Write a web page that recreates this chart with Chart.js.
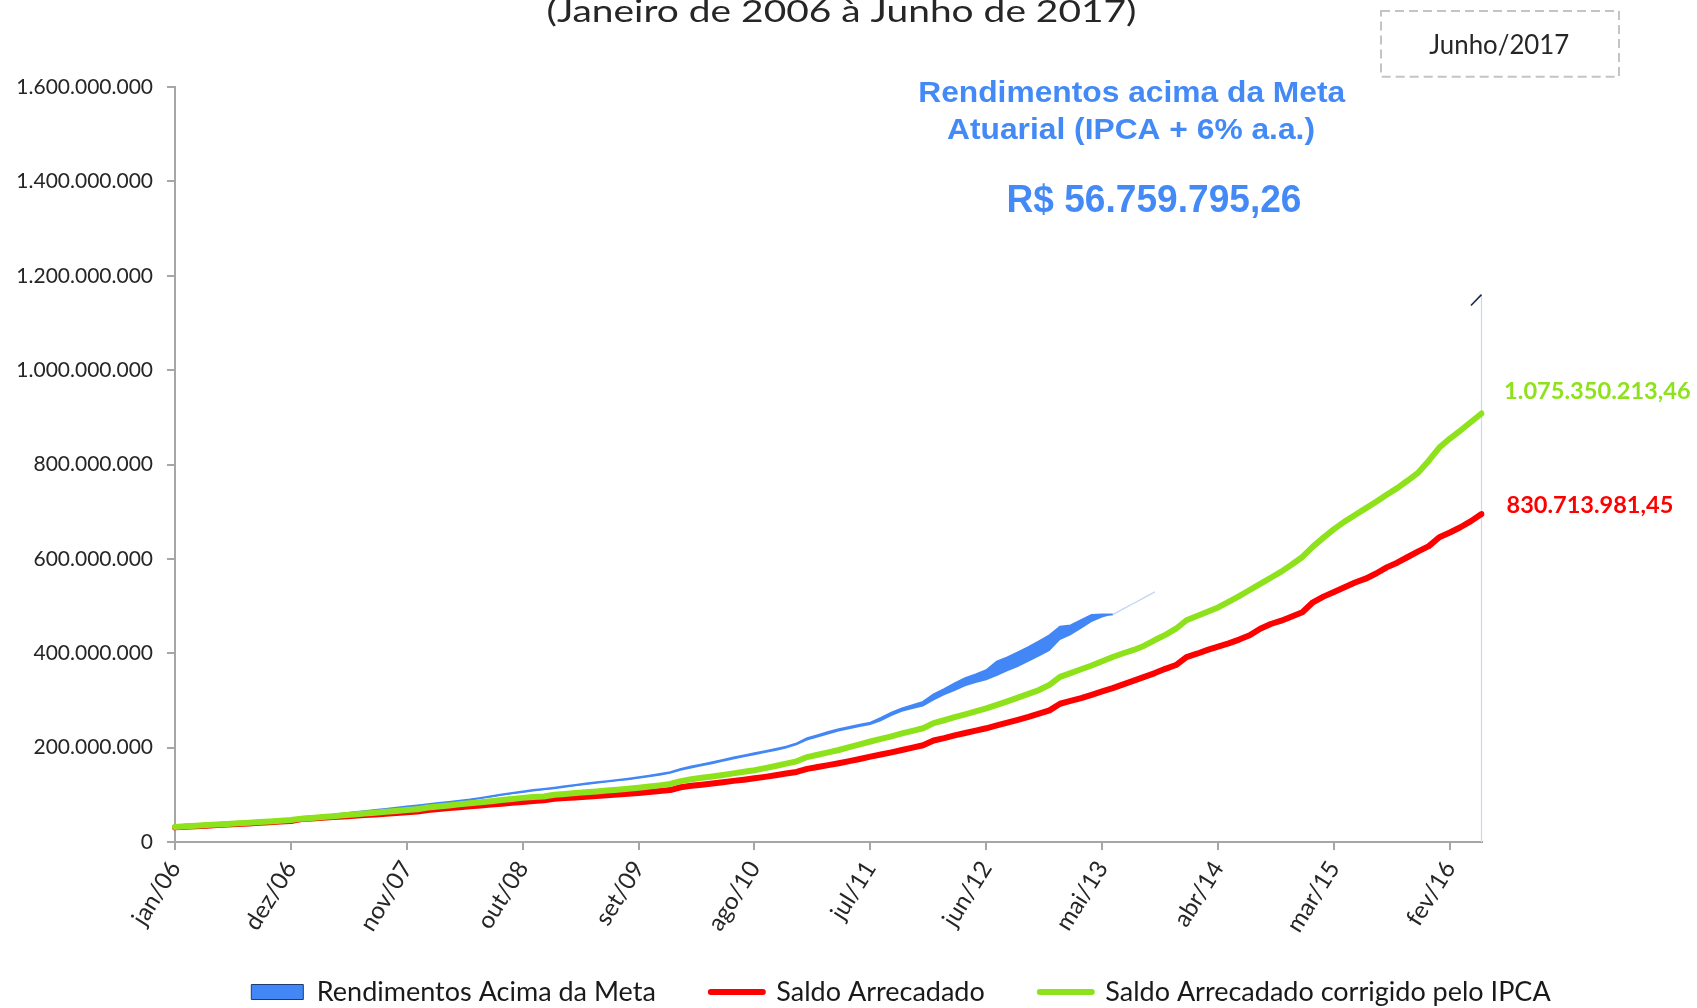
<!DOCTYPE html>
<html><head><meta charset="utf-8">
<script src="https://cdn.jsdelivr.net/npm/chart.js@4.4.1/dist/chart.umd.min.js"></script>
<style>html,body{margin:0;padding:0;background:#fff;overflow:hidden}</style>
</head><body>
<canvas id="c" width="1697" height="1008"></canvas>
<script>
// ---- categories (monthly, jan/06 .. mai/16) ----
const categories = [
 'jan/06','fev/06','mar/06','abr/06','mai/06','jun/06','jul/06','ago/06','set/06','out/06','nov/06','dez/06',
 'jan/07','fev/07','mar/07','abr/07','mai/07','jun/07','jul/07','ago/07','set/07','out/07','nov/07','dez/07',
 'jan/08','fev/08','mar/08','abr/08','mai/08','jun/08','jul/08','ago/08','set/08','out/08','nov/08','dez/08',
 'jan/09','fev/09','mar/09','abr/09','mai/09','jun/09','jul/09','ago/09','set/09','out/09','nov/09','dez/09',
 'jan/10','fev/10','mar/10','abr/10','mai/10','jun/10','jul/10','ago/10','set/10','out/10','nov/10','dez/10',
 'jan/11','fev/11','mar/11','abr/11','mai/11','jun/11','jul/11','ago/11','set/11','out/11','nov/11','dez/11',
 'jan/12','fev/12','mar/12','abr/12','mai/12','jun/12','jul/12','ago/12','set/12','out/12','nov/12','dez/12',
 'jan/13','fev/13','mar/13','abr/13','mai/13','jun/13','jul/13','ago/13','set/13','out/13','nov/13','dez/13',
 'jan/14','fev/14','mar/14','abr/14','mai/14','jun/14','jul/14','ago/14','set/14','out/14','nov/14','dez/14',
 'jan/15','fev/15','mar/15','abr/15','mai/15','jun/15','jul/15','ago/15','set/15','out/15','nov/15','dez/15',
 'jan/16','fev/16','mar/16','abr/16','mai/16'
];
const tickEvery = 11;

// ---- series values, in millions of R$ ----
const saldoArrecadado = [
 31,32.2,33.4,34.6,35.8,37,38.2,39.4,40.6,41.9,43.2,44.6,
 48.5,50,51.4,52.8,54.2,55.6,57,58.4,59.8,61.3,62.9,64.5,
 68,69.9,71.8,73.7,75.6,77.5,79.4,81.3,83.2,85,86.8,88.5,
 91.5,93,94.5,96,97.6,99.2,100.8,102.4,104,106,108,110,
 116,119,121.5,124,126.5,129.5,132,135,138,141.5,145,148.5,
 155,159,163,167,171.5,176,181,185.5,190,195,200,205,
 215,220,226,231,236,241,247,253,259,265,272,279,
 293,299,305,312,319,326,334,342,350,358,367,375,
 392,399,407,414,421,429,438,452,462,469,478,487,
 508,520,530,540,550,558,569,582,592,604,616,627,
 646,656,667,680,695
];
const saldoCorrigidoIPCA = [
 32,33.2,34.5,35.8,37,38.3,39.6,41,42.3,43.6,45,46.5,
 49.5,51,53,54.8,56.6,58.4,60.2,62,63.9,65.8,67.8,69.5,
 73,75.2,77.5,79.8,82,84.3,86.5,88.8,91,93.5,95.2,96.5,
 100,101.8,103.6,105.4,107.2,109,110.8,112.8,115,117.5,120,123,
 129,133,136,139,142,145.5,149,152,156.5,161,166,171,
 180,185,190,195,201,207,213,218.5,224,230,235.5,241,
 252,258,264.5,270.5,277,283,290.5,298,306,314,322,333,
 350,358,366,374,383,392,400,407,416,428,439,452,
 470,479,488,497,509,521,534,547,560,573,588,604,
 626,645,663,679,693,707,721,736,750,766,783,808,
 836,855,872,890,908
];
// Rendimentos acima da meta: band between a lower and an upper edge (jan/06 .. jun/13)
const rendimentosTopo = [
 32,33.3,34.6,36,37.4,38.8,40.2,41.6,43,44.5,46,48,
 50.5,53,55.5,58,60.5,63,65.3,67.6,70,72.5,75,77.5,
 80,82.5,85,87.5,90,93.5,97,100.5,104,107,110,112.5,
 115,118,121,124,126.5,129,131.5,134,137,140.5,144,148,
 155,160,164.5,169,174,179,183.5,188,192.5,197,202,209,
 220,226.5,233,239,244,248.5,253,263,274,283,290,297,
 313,324,336,347,355,364,382,391,402,413,425,438,
 456,459,470,481,482,482
];
const rendimentosBase = [
 31,32.3,33.6,35,36.4,37.8,39.2,40.6,42,43.5,45,46.5,
 48.5,51,53.5,56,58.5,61,63.3,65.6,68,70.5,73,75.5,
 77.5,80,82.5,85,87.5,91,94.5,98,101,104,107,109.5,
 112,115,118,121,123.5,126,128.5,131,134,137,140.5,144.5,
 151,156,160.5,165,170,175,179.5,184,188.5,193,198,205,
 215,221.5,228,234,239,243.5,248,256,267,276,282,287,
 300,311,320,330,337,343,352,362,371,382,393,405,
 428,438,452,466,476,482
];
const contornoMeses = ['jun/13','jul/13','ago/13','set/13','out/13'];
const contornoValores = [482,494,506,518,530];
const tracoMeses = ['abr/16','mai/16'];
const tracoValores = [1137,1160];

const yMax = 1600, yStep = 200;
const legendTexts = ['Rendimentos Acima da Meta','Saldo Arrecadado','Saldo Arrecadado corrigido pelo IPCA'];
const titleText = '(Janeiro de 2006 à Junho de 2017)';
const boxText = 'Junho/2017';
const noteLines = ['Rendimentos acima da Meta','Atuarial (IPCA + 6% a.a.)'];
const noteValue = 'R$ 56.759.795,26';
const endLabelGreen = '1.075.350.213,46';
const endLabelRed = '830.713.981,45';

const BLUE = '#4287f5', RED = '#ff0000', GREEN = '#8ee21b', AXIS = '#a6a6a6', TXT = '#262626';
const GAP = '\u2002';

function fmtMil(v){
  return Math.round(v*1e6).toString().replace(/\B(?=(\d{3})+(?!\d))/g,'.');
}

function drawText(ctx, txt, font, color, x, y, align, width){
  ctx.save();
  ctx.font = font; ctx.fillStyle = color; ctx.textBaseline = 'alphabetic'; ctx.textAlign = 'left';
  const w = ctx.measureText(txt).width;
  const s = width ? width / w : 1;
  const left = align === 'center' ? x - w*s/2 : x;
  ctx.translate(left, y); ctx.scale(s, 1);
  ctx.fillText(txt, 0, 0);
  ctx.restore();
}

const overlayPlugin = {
  id: 'overlay',
  beforeDatasetsDraw(chart){
    // right outline of the area series
    const ctx = chart.ctx, xs = chart.scales.x, ys = chart.scales.y;
    const x = xs.getPixelForValue(categories.length - 1);
    ctx.save();
    ctx.strokeStyle = '#c6d8f4'; ctx.lineWidth = 1.2;
    ctx.beginPath(); ctx.moveTo(x, ys.getPixelForValue(tracoValores[tracoValores.length-1]));
    ctx.lineTo(x, ys.getPixelForValue(0)); ctx.stroke();
    ctx.restore();
  },
  afterDraw(chart){
    const ctx = chart.ctx;
    drawText(ctx, titleText, '31px Lato', TXT, 841.5, 21.7, 'center', 590);
    // dashed box
    ctx.save();
    ctx.strokeStyle = '#c4c4c4'; ctx.lineWidth = 2; ctx.setLineDash([9,5]);
    ctx.strokeRect(1381, 11, 238, 65.7);
    ctx.restore();
    drawText(ctx, boxText, '27px Lato', TXT, 1499.3, 54.3, 'center', 140);
    drawText(ctx, noteLines[0], 'bold 30px "Liberation Sans"', '#448af6', 1131.7, 101.7, 'center', 427);
    drawText(ctx, noteLines[1], 'bold 30px "Liberation Sans"', '#448af6', 1131, 139.3, 'center', 368);
    drawText(ctx, noteValue, 'bold 38px "Liberation Sans"', '#448af6', 1154, 211.7, 'center', 295);
    drawText(ctx, endLabelGreen, 'bold 23px Lato', GREEN, 1504.1, 398.5, 'left', 186.6);
    drawText(ctx, endLabelRed, 'bold 23px Lato', RED, 1506.5, 512.6, 'left', 166.8);
  }
};

const ctx = document.getElementById('c').getContext('2d');
new Chart(ctx, {
  type: 'line',
  data: {
    labels: categories,
    datasets: [
      { label: 'base', data: rendimentosBase, borderWidth: 0, borderColor: BLUE, pointRadius: 0, fill: false, order: 4, tension: 0 },
      { label: legendTexts[0], data: rendimentosTopo, borderColor: BLUE, borderWidth: 2, backgroundColor: BLUE, pointRadius: 0, fill: '-1', order: 3, tension: 0 },
      { label: 'contorno', data: contornoMeses.map((m,i)=>({x:m, y:contornoValores[i]})), borderColor: '#c3d5f3', borderWidth: 1.3, pointRadius: 0, fill: false, order: 3 },
      { label: 'traco', data: tracoMeses.map((m,i)=>({x:m, y:tracoValores[i]})), borderColor: '#1c2a48', borderWidth: 1.6, pointRadius: 0, fill: false, order: 3 },
      { label: legendTexts[1], data: saldoArrecadado, borderColor: RED, borderWidth: 6, pointRadius: 0, fill: false, order: 2, borderJoinStyle: 'round', borderCapStyle: 'round', tension: 0 },
      { label: legendTexts[2], data: saldoCorrigidoIPCA, borderColor: GREEN, borderWidth: 6, pointRadius: 0, fill: false, order: 1, borderJoinStyle: 'round', borderCapStyle: 'round', tension: 0 }
    ]
  },
  options: {
    responsive: false, animation: false, devicePixelRatio: 1,
    layout: { padding: { left: 0, right: -105, top: 87, bottom: -7.5 } },
    font: { family: 'Lato' },
    scales: {
      x: {
        type: 'category',
        afterBuildTicks(scale){ scale.ticks = scale.ticks.filter(t => t.value % tickEvery === 0); },
        afterFit(scale){ scale.height = 95; },
        ticks: { autoSkip: false, maxRotation: 58, minRotation: 58, padding: 6, color: TXT, font: { family: 'Lato', size: 24 } },
        grid: { display: true, drawOnChartArea: false, drawTicks: true, tickLength: 8, color: AXIS, lineWidth: 2 },
        border: { display: true, color: AXIS, width: 2 }
      },
      y: {
        min: 0, max: yMax,
        afterFit(scale){ scale.width = 175; },
        ticks: { stepSize: yStep, padding: 14, color: TXT, font: { family: 'Lato', size: 21 }, callback: v => fmtMil(v) },
        grid: { display: true, drawOnChartArea: false, drawTicks: true, tickLength: 8, color: AXIS, lineWidth: 2 },
        border: { display: true, color: AXIS, width: 2 }
      },
      yRightSpace: {
        type: 'linear', position: 'right', display: true,
        afterFit(scale){ scale.width = 320.5; },
        ticks: { display: false }, grid: { display: false }, border: { display: false }
      }
    },
    plugins: {
      title: { display: false },
      tooltip: { enabled: false },
      legend: {
        position: 'bottom', align: 'center',
        labels: {
          usePointStyle: true, pointStyleWidth: 52, boxHeight: 15, padding: 41.5,
          color: '#1a1a1a', font: { family: 'Lato', size: 27 },
          generateLabels(){
            return [
              { text: legendTexts[0] + GAP, fillStyle: BLUE, strokeStyle: '#1f3b70', lineWidth: 1, pointStyle: 'rect', hidden: false, datasetIndex: 1, fontColor: '#1a1a1a' },
              { text: legendTexts[1] + GAP, fillStyle: RED, strokeStyle: RED, lineWidth: 6, lineCap: 'round', pointStyle: 'line', hidden: false, datasetIndex: 4, fontColor: '#1a1a1a' },
              { text: legendTexts[2], fillStyle: GREEN, strokeStyle: GREEN, lineWidth: 6, lineCap: 'round', pointStyle: 'line', hidden: false, datasetIndex: 5, fontColor: '#1a1a1a' }
            ];
          }
        }
      }
    }
  },
  plugins: [overlayPlugin]
});
</script>
</body></html>
